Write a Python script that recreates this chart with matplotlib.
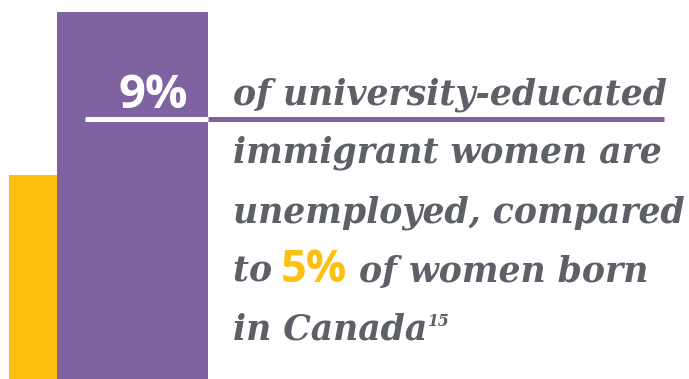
import matplotlib
matplotlib.use("Agg")
import matplotlib.pyplot as plt

# data
labels = ["Women born in Canada", "University-educated immigrant women"]
rates = [5, 9]
bar_colors = ["#FDC010", "#7F63A0"]
lines = ["of university-educated", "immigrant women are", "unemployed, compared"]

GRAY = "#5E6068"
W, H = 689, 379

fig = plt.figure(figsize=(W / 100, H / 100), dpi=100)

# bars
ax = fig.add_axes([9 / W, 0, 199 / W, 1])
ax.bar([0, 48], rates, width=[48, 151], align="edge", color=bar_colors, linewidth=0)
ax.set_xlim(0, 199)
ax.set_ylim(0, max(rates) * H / 367)
ax.axis("off")

# overlay in pixel units
ov = fig.add_axes([0, 0, 1, 1])
ov.set_xlim(0, W)
ov.set_ylim(H, 0)
ov.axis("off")
ov.patch.set_alpha(0)

ov.plot([85, 208], [118.5, 118.5], color="white", lw=3.6, solid_capstyle="butt")
ov.plot([208, 664], [118.5, 118.5], color=bar_colors[1], lw=3.6, solid_capstyle="butt")

ov.text(188, 108, f"{rates[1]}%", color="white", fontsize=34, fontweight="bold",
        family="Open Sans", ha="right", va="baseline")

serif = dict(family="DejaVu Serif", style="italic", fontweight="bold", color=GRAY, va="baseline")
r = fig.canvas.get_renderer()
probe = ov.text(0, 0, lines[0], fontsize=20, **serif)
w = probe.get_window_extent(r).width
probe.remove()
fs = 20 * 434 / w

x0 = 233
baselines = [105, 163, 223, 282, 340]
for txt, yb in zip(lines, baselines):
    ov.text(x0, yb, txt, fontsize=fs, **serif)

# line 4 with yellow figure
x = x0
t = ov.text(x, baselines[3], "to ", fontsize=fs, **serif)
x += t.get_window_extent(r).width - 3
t = ov.text(x, baselines[3], f"{rates[0]}%", fontsize=fs * 1.3, color=bar_colors[0],
            family="Open Sans", fontweight="bold", va="baseline")
x += t.get_window_extent(r).width
ov.text(x, baselines[3], " of women born", fontsize=fs, **serif)

t = ov.text(x0, baselines[4], "in Canada", fontsize=fs, **serif)
x = x0 + t.get_window_extent(r).width + 1
ov.text(x, baselines[4] - 14, "15", fontsize=fs * 0.45, **serif)

fig.savefig("out.png", dpi=100)
